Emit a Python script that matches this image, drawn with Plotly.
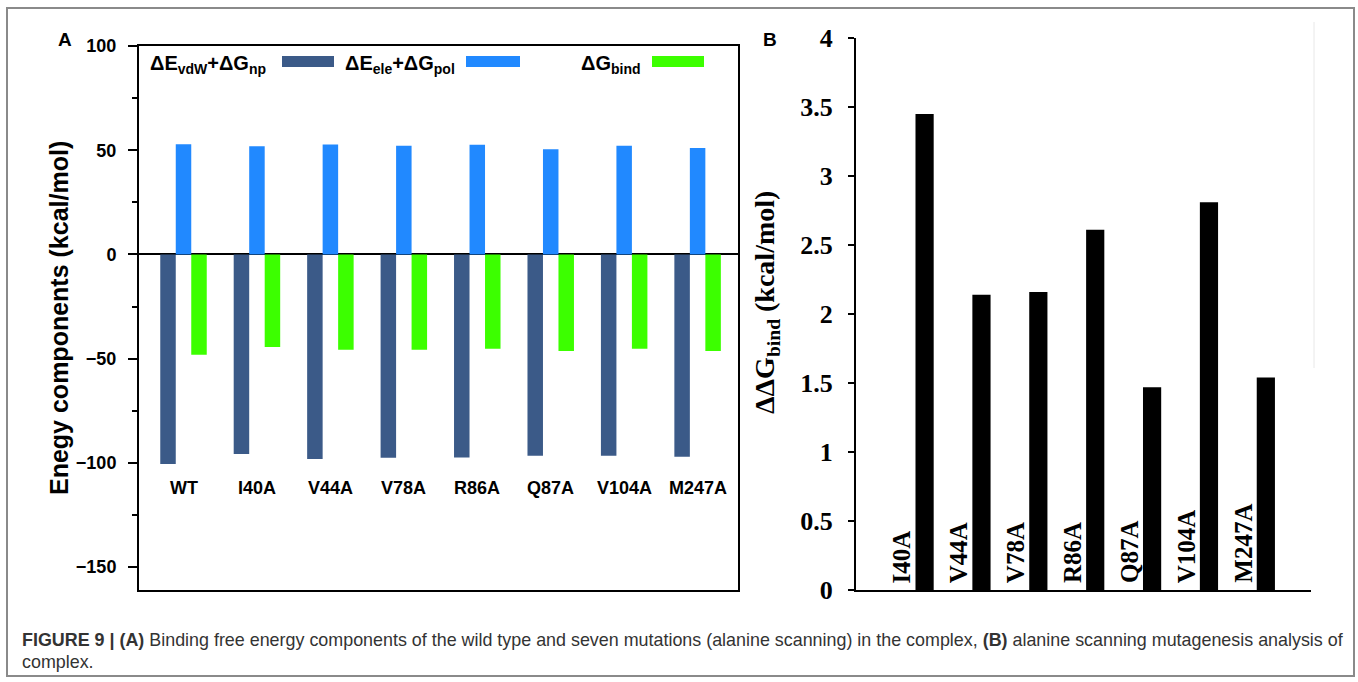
import plotly.graph_objects as go

W, H = 1358, 682

# ---------------- data ----------------
categories_a = ["WT", "I40A", "V44A", "V78A", "R86A", "Q87A", "V104A", "M247A"]
vdw_np = [-100.5, -95.8, -98.1, -97.6, -97.4, -96.6, -96.6, -97.1]
ele_pol = [52.9, 51.9, 52.7, 52.1, 52.6, 50.5, 52.1, 51.1]
g_bind = [-48.1, -44.4, -45.7, -45.7, -45.2, -46.3, -45.2, -46.3]

categories_b = ["I40A", "V44A", "V78A", "R86A", "Q87A", "V104A", "M247A"]
ddg_bind = [3.45, 2.14, 2.16, 2.61, 1.47, 2.81, 1.54]

series_names = ["ΔE<sub>vdW</sub>+ΔG<sub>np</sub>",
                "ΔE<sub>ele</sub>+ΔG<sub>pol</sub>",
                "ΔG<sub>bind</sub>"]
series_colors = ["#3B5A88", "#2189FF", "#3CFF00"]

title_a = "Enegy components (kcal/mol)"
title_b = "ΔΔG<sub>bind</sub> (kcal/mol)"
caption_1 = ("<b>FIGURE 9 | (A)</b> Binding free energy components of the wild type and seven "
             "mutations (alanine scanning) in the complex, <b>(B)</b> alanine scanning "
             "mutagenesis analysis of")
caption_2 = "complex."

SANS = "Liberation Sans, Arial, sans-serif"
SERIF = "Liberation Serif, Times New Roman, serif"


def px(x):
    return x / W


def py(y):
    return 1 - y / H


fig = go.Figure()

# Panel A bars
for name, vals, col in zip(series_names, [vdw_np, ele_pol, g_bind], series_colors):
    fig.add_trace(go.Bar(x=categories_a, y=vals, name=name, marker=dict(color=col, line=dict(width=0)),
                         xaxis="x", yaxis="y", showlegend=False))

# Panel B bars
fig.add_trace(go.Bar(x=categories_b, y=ddg_bind, width=0.32, offset=0.046,
                     marker=dict(color="black", line=dict(width=0)),
                     xaxis="x2", yaxis="y2", showlegend=False))

annotations = []
shapes = []

# panel letters
annotations.append(dict(text="<b>A</b>", x=px(64.5), y=py(40), xref="paper", yref="paper",
                        xanchor="center", yanchor="middle",
                        showarrow=False, font=dict(family=SANS, size=19, color="black")))
annotations.append(dict(text="<b>B</b>", x=px(770), y=py(40), xref="paper", yref="paper",
                        xanchor="center", yanchor="middle",
                        showarrow=False, font=dict(family=SANS, size=19, color="black")))

# panel A category labels (inside the plot)
for c in categories_a:
    annotations.append(dict(text="<b>%s</b>" % c, x=c, y=-112, xref="x", yref="y", showarrow=False,
                            xanchor="center", yanchor="middle",
                            font=dict(family=SANS, size=18, color="black")))

# panel B rotated category labels
for c in categories_b:
    annotations.append(dict(text="<b>%s</b>" % c, x=c, y=0, xref="x2", yref="y2", showarrow=False,
                            textangle=-90, xanchor="center", yanchor="bottom", xshift=-11, yshift=5,
                            font=dict(family=SERIF, size=25, color="black")))

# custom legend: text then swatch
leg_text_x = [148, 343, 579]
leg_sw_x = [(282, 334), (466, 520), (652, 704)]
for name, col, tx, (s0, s1) in zip(series_names, series_colors, leg_text_x, leg_sw_x):
    annotations.append(dict(text="<b>%s</b>" % name, x=px(tx), y=py(64), xref="paper", yref="paper",
                            xanchor="left", yanchor="middle", showarrow=False,
                            font=dict(family=SANS, size=20, color="black")))
    shapes.append(dict(type="rect", xref="paper", yref="paper", x0=px(s0), x1=px(s1),
                       y0=py(67), y1=py(56), fillcolor=col, line=dict(width=0)))

# axis titles
annotations.append(dict(text="<b>%s</b>" % title_a, x=px(59), y=py(318), xref="paper", yref="paper",
                        xanchor="center", yanchor="middle",
                        textangle=-90, showarrow=False, font=dict(family=SANS, size=25, color="black")))
annotations.append(dict(text="<b>%s</b>" % title_b, x=px(766), y=py(303), xref="paper", yref="paper",
                        xanchor="center", yanchor="middle",
                        textangle=-90, showarrow=False, font=dict(family=SERIF, size=28, color="black")))

# caption
annotations.append(dict(text=caption_1, x=px(20), y=py(640), xref="paper", yref="paper",
                        xanchor="left", yanchor="middle", showarrow=False,
                        font=dict(family=SANS, size=17.9, color="#333333")))
annotations.append(dict(text=caption_2, x=px(20), y=py(662), xref="paper", yref="paper",
                        xanchor="left", yanchor="middle", showarrow=False,
                        font=dict(family=SANS, size=17.9, color="#333333")))

# outer frame and faint line
shapes.append(dict(type="rect", xref="paper", yref="paper", x0=px(7), x1=px(1354), y0=py(676), y1=py(8),
                   line=dict(color="#8a8a8a", width=2)))
shapes.append(dict(type="line", xref="paper", yref="paper", x0=px(1314), x1=px(1314), y0=py(22), y1=py(368),
                   line=dict(color="#e8e8e8", width=1)))

fig.update_layout(
    width=W, height=H,
    margin=dict(l=0, r=0, t=0, b=0, pad=0, autoexpand=False),
    paper_bgcolor="white", plot_bgcolor="white",
    barmode="group", bargap=0.367, bargroupgap=0,
    xaxis=dict(domain=[px(139), px(738)], anchor="y", type="category", categoryorder="array",
               categoryarray=categories_a, range=[-0.606, 7.55], showticklabels=False, ticks="",
               automargin=False,
               showline=True, linecolor="black", linewidth=2, mirror=True, showgrid=False, zeroline=False),
    yaxis=dict(domain=[py(590), py(46)], anchor="x", range=[-161, 100], tickmode="linear", tick0=0, dtick=50,
               ticks="outside", ticklen=9, tickwidth=2, tickcolor="black", automargin=False,
               minor=dict(ticks="outside", ticklen=5, tickwidth=2, tickcolor="black", dtick=25, tick0=0,
                          showgrid=False),
               showline=True, linecolor="black", linewidth=2, mirror=True, showgrid=False,
               zeroline=True, zerolinecolor="black", zerolinewidth=2,
               tickfont=dict(family=SANS, size=18, color="black", weight="bold"), ticklabelstandoff=8),
    xaxis2=dict(domain=[px(856), px(1311)], anchor="y2", type="category", categoryorder="array",
                categoryarray=categories_b, range=[-1, 7], showticklabels=False, ticks="",
                automargin=False,
                showline=True, linecolor="black", linewidth=2, showgrid=False, zeroline=False),
    yaxis2=dict(domain=[py(590), py(38)], anchor="x2", range=[0, 4], tickmode="linear", tick0=0, dtick=0.5,
                ticks="outside", ticklen=6, tickwidth=2, tickcolor="black", automargin=False,
                showline=True, linecolor="black", linewidth=2, showgrid=False, zeroline=False,
                tickfont=dict(family=SERIF, size=26, color="black", weight="bold"), ticklabelstandoff=10),
    annotations=annotations,
    shapes=shapes,
)

fig.write_html("out.html", config={"displayModeBar": False},
               post_script="document.body.style.margin='0px';")
